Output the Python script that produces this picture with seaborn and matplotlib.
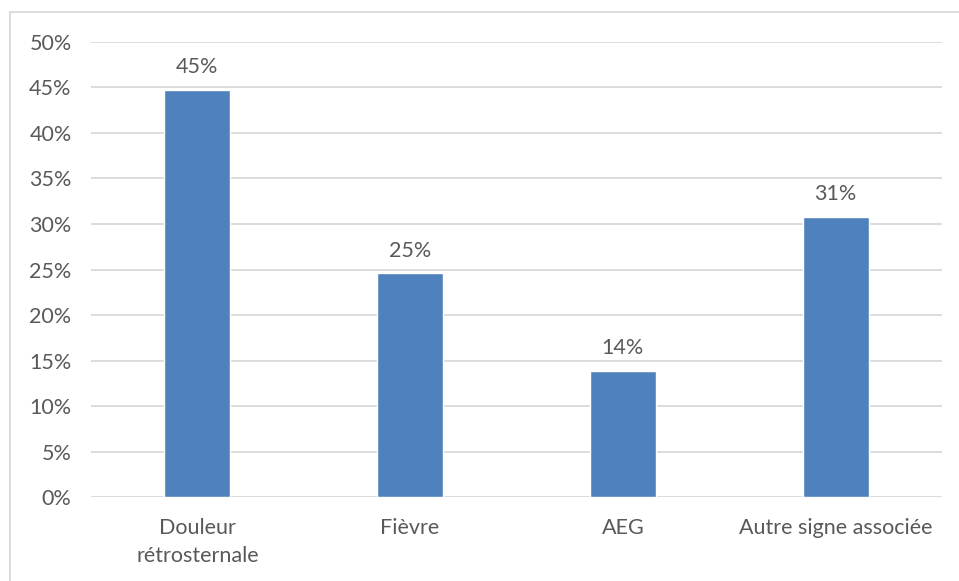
import matplotlib
matplotlib.use("Agg")
import matplotlib.pyplot as plt
import seaborn as sns
import pandas as pd
from matplotlib.patches import Rectangle

categories = ["Douleur\nrétrosternale", "Fièvre", "AEG", "Autre signe associée"]
values = [0.447, 0.246, 0.139, 0.308]
y_ticks = [0.0, 0.05, 0.10, 0.15, 0.20, 0.25, 0.30, 0.35, 0.40, 0.45, 0.50]

sns.set_theme(style="white")
plt.rcParams["font.family"] = ["Lato", "DejaVu Sans"]

text_color = "#595959"
grid_color = "#D9D9D9"
bar_color = "#4F81BD"
fs = 15.5

df = pd.DataFrame({"cat": categories, "val": values})

fig = plt.figure(figsize=(9.59, 5.81), dpi=100)
fig.patch.set_facecolor("white")
# chart frame
fig.patches.append(Rectangle((10 / 959, -0.1), 1.2, 1 - 12 / 581 + 0.1,
                             transform=fig.transFigure, fill=False,
                             edgecolor="#D9D9D9", linewidth=1.3, zorder=0))

ax = fig.add_axes([91 / 959, 1 - 497.3 / 581, (942 - 91) / 959, (497.3 - 41.7) / 581])
sns.barplot(data=df, x="cat", y="val", color=bar_color, width=0.31,
            saturation=1, ax=ax, zorder=3)

ax.set_xlim(-0.5, 3.5)
ax.set_ylim(0, 0.5)
ax.set_yticks(y_ticks)
ax.set_yticklabels([f"{round(t * 100)}%" for t in y_ticks])
ax.yaxis.grid(True, color=grid_color, linewidth=1.3)
ax.set_axisbelow(True)
for s in ax.spines.values():
    s.set_visible(False)
ax.tick_params(axis="both", length=0, labelsize=fs, labelcolor=text_color)
ax.tick_params(axis="y", pad=14)
ax.tick_params(axis="x", pad=15)
for lbl in ax.get_xticklabels():
    lbl.set_linespacing(1.5)
ax.set_xlabel("")
ax.set_ylabel("")

for i, v in enumerate(values):
    ax.annotate(f"{round(v * 100)}%", (i, v), xytext=(0, 9),
                textcoords="offset points", ha="center", va="bottom",
                fontsize=fs, color=text_color)

fig.savefig("out.png", dpi=100)
